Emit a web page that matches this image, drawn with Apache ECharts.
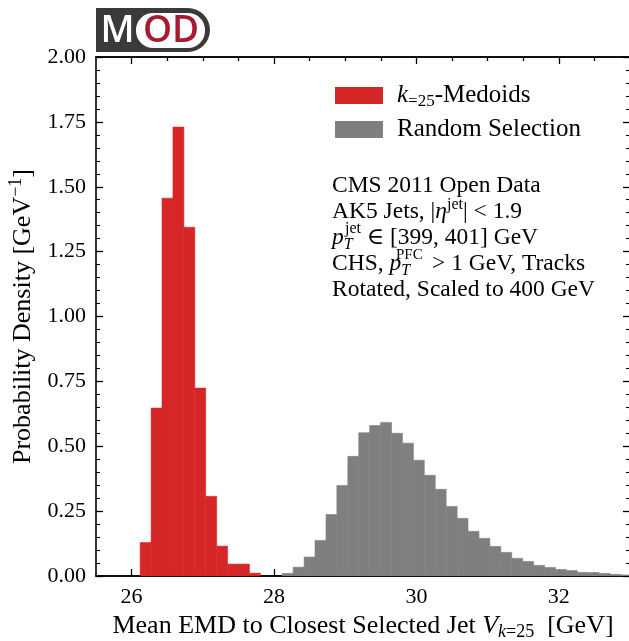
<!DOCTYPE html>
<html>
<head>
<meta charset="utf-8">
<script src="https://cdn.jsdelivr.net/npm/echarts@6/dist/echarts.min.js"></script>
<style>
html, body { margin: 0; padding: 0; background: #fff; }
#emdDiv { width: 629px; height: 641px; }
</style>
</head>
<body>
<div id="emdDiv"></div>
<script>
// histogram bin edges and densities
var redEdges = [26.120, 26.274, 26.427, 26.581, 26.734, 26.888, 27.041, 27.195, 27.348, 27.502, 27.655, 27.809];
var redHeights = [0.129, 0.647, 1.456, 1.730, 1.344, 0.724, 0.307, 0.115, 0.046, 0.046, 0.011];

var grayEdges = [28.116, 28.269, 28.423, 28.576, 28.730, 28.883, 29.037, 29.190, 29.344, 29.497,
    29.651, 29.804, 29.958, 30.111, 30.265, 30.418, 30.572, 30.725, 30.879, 31.032,
    31.186, 31.339, 31.493, 31.646, 31.800, 31.953, 32.107, 32.260, 32.414, 32.567,
    32.721, 32.874, 33.028];
var grayHeights = [0.010, 0.034, 0.073, 0.137, 0.237, 0.349, 0.461, 0.552, 0.580, 0.592,
    0.550, 0.512, 0.446, 0.388, 0.334, 0.268, 0.222, 0.172, 0.145, 0.114,
    0.091, 0.068, 0.056, 0.041, 0.033, 0.025, 0.021, 0.014, 0.013, 0.010,
    0.006, 0.004];

var xMajorTicks = [26, 28, 30, 32];
var xMinorTicks = [26.5, 27, 27.5, 28.5, 29, 29.5, 30.5, 31, 31.5, 32.5];

var seriesNames = ['k=25-Medoids', 'Random Selection'];

var serif = '"Liberation Serif", "DejaVu Serif", serif';

function scriptStyles(size) {
    var small = Math.round(size * 0.68);
    return {
        it: { fontFamily: serif, fontSize: size, fontStyle: 'italic', color: '#000' },
        sub: { fontFamily: serif, fontSize: small, padding: [13, 0, 0, 0], color: '#000' },
        subIt: { fontFamily: serif, fontSize: small, fontStyle: 'italic', padding: [13, 0, 0, 0], color: '#000' },
        sup: { fontFamily: serif, fontSize: small, padding: [0, 0, 14, 0], color: '#000' }
    };
}

function toBins(edges, heights) {
    return heights.map(function (h, i) {
        return [edges[i], edges[i + 1], h];
    });
}

function renderBin(params, api) {
    var topLeft = api.coord([api.value(0), api.value(2)]);
    var bottomRight = api.coord([api.value(1), 0]);
    var color = api.visual('color');
    return {
        type: 'rect',
        shape: {
            x: topLeft[0],
            y: topLeft[1],
            width: bottomRight[0] - topLeft[0],
            height: bottomRight[1] - topLeft[1]
        },
        style: { fill: color, stroke: color, lineWidth: 0.6 }
    };
}

function xAxisDef(pos, ticks, len, withLabels) {
    return {
        type: 'value',
        position: pos,
        min: 25.5,
        max: 33,
        axisLine: { show: true, lineStyle: { color: '#000', width: 1.6 } },
        axisTick: { show: true, inside: true, length: len, customValues: ticks, lineStyle: { color: '#000', width: 1.3 } },
        axisLabel: withLabels ? {
            show: true, customValues: ticks, margin: 10,
            color: '#000', fontFamily: serif, fontSize: 22
        } : { show: false },
        splitLine: { show: false }
    };
}

function yAxisDef(pos, withLabels) {
    return {
        type: 'value',
        position: pos,
        min: 0,
        max: 2,
        interval: 0.25,
        axisLine: { show: true, lineStyle: { color: '#000', width: 1.6 } },
        axisTick: { show: true, inside: true, length: 7, lineStyle: { color: '#000', width: 1.3 } },
        minorTick: { show: true, splitNumber: 5, length: 4, lineStyle: { color: '#000', width: 1.1 } },
        axisLabel: withLabels ? {
            show: true, margin: 10, color: '#000', fontFamily: serif, fontSize: 22,
            formatter: function (v) { return v.toFixed(2); }
        } : { show: false },
        splitLine: { show: false }
    };
}

var xBottom = xAxisDef('bottom', xMajorTicks, 7, true);
xBottom.name = 'Mean EMD to Closest Selected Jet {it|V}{subIt|k}{sub|=25}  [GeV]';
xBottom.nameLocation = 'middle';
xBottom.nameGap = 33;
xBottom.nameTextStyle = { color: '#000', fontFamily: serif, fontSize: 26, rich: scriptStyles(26) };

var yLeft = yAxisDef('left', true);
yLeft.name = 'Probability Density [GeV{sup|\u22121}]';
yLeft.nameLocation = 'middle';
yLeft.nameGap = 44;
yLeft.nameTextStyle = { color: '#000', fontFamily: serif, fontSize: 26, rich: scriptStyles(26) };

var infoSize = 23.5;
var infoFont = infoSize + 'px ' + serif;
var infoRich = scriptStyles(infoSize);
var infoX = 332;

function infoText(y, text, rich) {
    return {
        type: 'text',
        style: { x: infoX, y: y, text: text, font: infoFont, fill: '#000', verticalAlign: 'middle', rich: rich }
    };
}

var myChart = echarts.init(document.getElementById('emdDiv'));
myChart.setOption({
    animation: false,
    backgroundColor: '#fff',
    grid: { left: 96, top: 57, width: 534, height: 519, containLabel: false, outerBoundsMode: 'none' },
    xAxis: [
        xBottom,
        xAxisDef('bottom', xMinorTicks, 4, false),
        xAxisDef('top', xMajorTicks, 7, false),
        xAxisDef('top', xMinorTicks, 4, false)
    ],
    yAxis: [yLeft, yAxisDef('right', false)],
    legend: {
        orient: 'vertical',
        left: 330,
        top: 78,
        itemWidth: 48,
        itemHeight: 17,
        itemGap: 7,
        icon: 'rect',
        data: seriesNames,
        formatter: function (name) {
            if (name === seriesNames[0]) {
                return '{it|k}{sub|=25}-Medoids';
            }
            return name;
        },
        textStyle: {
            color: '#000', fontFamily: serif, fontSize: 25, padding: [0, 0, 0, 9],
            rich: {
                it: { fontFamily: serif, fontSize: 25, fontStyle: 'italic', color: '#000' },
                sub: { fontFamily: serif, fontSize: 17, padding: [12, 0, 0, 0], color: '#000' }
            }
        }
    },
    graphic: [
        // MOD logo
        { type: 'rect', shape: { x: 96, y: 8, width: 114, height: 44, r: [0, 22, 22, 0] }, style: { fill: '#3a3b39' } },
        { type: 'rect', shape: { x: 136, y: 13, width: 69, height: 35, r: 17 }, style: { fill: '#fff' } },
        { type: 'text', style: { x: 117.5, y: 31, text: 'M', fill: '#fff', font: '600 37px "Open Sans"', align: 'center', verticalAlign: 'middle' } },
        { type: 'text', style: { x: 171, y: 31, text: 'OD', fill: '#a51c30', font: '600 37px "Open Sans"', align: 'center', verticalAlign: 'middle' } },
        // info box
        infoText(186, 'CMS 2011 Open Data'),
        infoText(212, 'AK5 Jets, |{it|\u03b7}{sup|jet}| < 1.9', infoRich),
        infoText(238, '{it|p}{subT|T} \u2208 [399, 401] GeV', {
            it: infoRich.it,
            subT: { fontFamily: serif, fontSize: 16, fontStyle: 'italic', width: 17, padding: [13, 0, 0, 0], color: '#000' }
        }),
        { type: 'text', style: { x: infoX + 13, y: 229, text: 'jet', font: '16px ' + serif, fill: '#000', verticalAlign: 'middle' } },
        infoText(264, 'CHS, {it|p}{subT|T} > 1 GeV, Tracks', {
            it: infoRich.it,
            subT: { fontFamily: serif, fontSize: 16, fontStyle: 'italic', width: 25, padding: [13, 0, 0, 0], color: '#000' }
        }),
        { type: 'text', style: { x: infoX + 64, y: 255, text: 'PFC', font: '15px ' + serif, fill: '#000', verticalAlign: 'middle' } },
        infoText(290, 'Rotated, Scaled to 400 GeV')
    ],
    series: [
        {
            name: seriesNames[0],
            type: 'custom',
            renderItem: renderBin,
            clip: true,
            itemStyle: { color: '#d62728' },
            encode: { x: [0, 1], y: 2 },
            data: toBins(redEdges, redHeights)
        },
        {
            name: seriesNames[1],
            type: 'custom',
            renderItem: renderBin,
            clip: true,
            itemStyle: { color: '#7f7f7f' },
            encode: { x: [0, 1], y: 2 },
            data: toBins(grayEdges, grayHeights)
        }
    ]
});
</script>
</body>
</html>
